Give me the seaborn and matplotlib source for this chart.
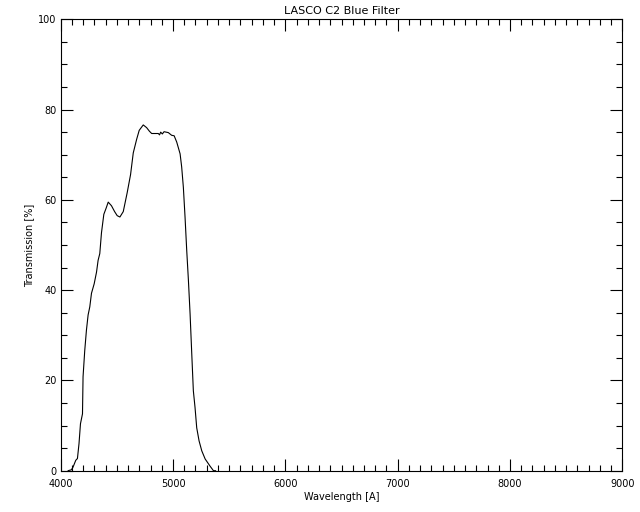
import numpy as np
import pandas as pd
import matplotlib
matplotlib.use('Agg')
import matplotlib.pyplot as plt
from matplotlib.ticker import MultipleLocator
import seaborn as sns

# LASCO C2 blue filter transmission curve
wavelength = [4065, 4095, 4110, 4134, 4149, 4163, 4176, 4194, 4199, 4214,
              4229, 4244, 4259, 4274, 4298, 4319, 4333, 4348, 4363, 4384,
              4405, 4423, 4452, 4480, 4503, 4527, 4557, 4592, 4622, 4646,
              4676, 4699, 4735, 4765, 4790, 4810, 4840, 4869, 4880, 4890,
              4905, 4920, 4958, 4988, 5010, 5033, 5063, 5077, 5092, 5107,
              5122, 5137, 5152, 5167, 5181, 5196, 5211, 5232, 5256, 5286,
              5330, 5360, 5380]
transmission = [0.0, 0.2, 0.8, 2.3, 2.7, 6.0, 10.4, 12.6, 20.8, 26.6,
                31.1, 34.5, 36.3, 39.3, 41.4, 44.0, 46.6, 48.1, 52.7, 56.8,
                58.2, 59.5, 58.7, 57.4, 56.5, 56.2, 57.4, 61.6, 65.6, 70.4,
                73.4, 75.4, 76.6, 76.0, 75.2, 74.7, 74.7, 74.7, 74.4, 75.0,
                74.6, 75.1, 74.9, 74.3, 74.2, 72.8, 70.2, 67.3, 62.8, 56.2,
                48.8, 42.2, 34.7, 25.8, 17.7, 14.0, 9.5, 6.6, 4.4, 2.6,
                1.0, 0.0, 0.0]

df = pd.DataFrame({'wavelength': wavelength, 'transmission': transmission})

sns.set_style('ticks')
plt.rcParams['font.family'] = ['DejaVu Sans']
plt.rcParams['text.color'] = 'black'
plt.rcParams['axes.labelcolor'] = 'black'

fig = plt.figure(figsize=(6.4, 5.12), dpi=100)
ax = fig.add_axes([60.7 / 640, 41.3 / 512, 561.6 / 640, 451.4 / 512])

sns.lineplot(data=df, x='wavelength', y='transmission', color='black',
             linewidth=0.8, ax=ax)

ax.set_xlim(4000, 9000)
ax.set_ylim(0, 100)
ax.xaxis.set_major_locator(MultipleLocator(1000))
ax.xaxis.set_minor_locator(MultipleLocator(100))
ax.yaxis.set_major_locator(MultipleLocator(20))
ax.yaxis.set_minor_locator(MultipleLocator(5))
ax.tick_params(which='both', direction='in', top=True, right=True,
               labelsize=7, colors='black', width=0.8)
ax.tick_params(which='major', length=8.5)
ax.tick_params(which='minor', length=4.3)
ax.tick_params(axis='y', which='major', pad=3)
ax.tick_params(axis='x', which='major', pad=6)
for s in ax.spines.values():
    s.set_visible(True)
    s.set_linewidth(0.8)
    s.set_color('black')

ax.set_title('LASCO C2 Blue Filter', fontsize=8, pad=4, color='black')
ax.set_xlabel('Wavelength [A]', fontsize=7, labelpad=2, color='black')
ax.set_ylabel('Transmission [%]', fontsize=7, labelpad=3, color='black')

fig.savefig('out.png', dpi=100, facecolor='white')
